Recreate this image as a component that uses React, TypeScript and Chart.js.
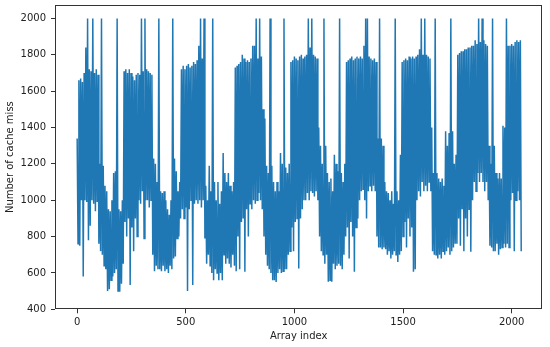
import React, { useEffect, useRef } from "react";
import { Chart, registerables } from "chart.js";

Chart.register(...registerables);

const indexStep = 4;

// Number of cache misses (alternating local highs / lows, one every indexStep indices)
const cacheMisses = [
  1340, 760, 1660, 750, 1670, 1000, 1650, 580, 1700, 1000, 1840, 990, 2000, 780, 1720, 860,
  1710, 1000, 2000, 980, 1700, 940, 1720, 990, 1690, 760, 1200, 720, 2000, 700, 1190, 640,
  1080, 620, 1050, 500, 950, 510, 940, 560, 1000, 580, 1150, 600, 1160, 620, 2000, 500,
  950, 497, 940, 540, 1000, 650, 1710, 880, 1720, 800, 1700, 900, 1720, 534, 1700, 850,
  1680, 720, 1660, 900, 1690, 800, 1700, 1000, 1690, 980, 2000, 1050, 1710, 790, 2000, 1000,
  1720, 1000, 1710, 960, 1700, 1000, 1690, 700, 1230, 610, 1200, 640, 1100, 620, 2000, 620,
  1050, 610, 1040, 640, 1050, 610, 1000, 620, 950, 600, 920, 640, 1000, 620, 2000, 680,
  1230, 690, 1160, 790, 1050, 800, 1100, 900, 1720, 950, 1740, 900, 1720, 960, 1740, 500,
  1750, 950, 1730, 1000, 1740, 534, 1760, 980, 1750, 1000, 1770, 980, 1850, 1000, 2000, 960,
  1780, 1000, 2000, 790, 1080, 650, 1000, 700, 1190, 640, 1050, 600, 2000, 560, 1100, 620,
  1000, 600, 1100, 560, 980, 600, 1050, 560, 1260, 700, 1150, 650, 1100, 680, 1150, 650,
  1080, 630, 1050, 700, 1100, 640, 1730, 610, 1740, 800, 1750, 620, 1760, 880, 1800, 900,
  1780, 607, 1760, 950, 1770, 800, 1760, 980, 1780, 950, 1850, 1000, 1850, 980, 2000, 1000,
  1780, 1040, 2000, 1000, 1790, 950, 1500, 800, 1450, 700, 1190, 640, 1150, 620, 2000, 600,
  1190, 560, 1100, 560, 1050, 550, 1100, 600, 1050, 620, 1260, 600, 1200, 610, 2000, 620,
  1180, 620, 1150, 700, 1200, 720, 1760, 850, 1770, 720, 1790, 880, 1780, 900, 1770, 625,
  1790, 900, 1800, 950, 1780, 1000, 1790, 1000, 1800, 1040, 2000, 1000, 1840, 1050, 2000, 1040,
  1800, 1020, 1790, 1050, 1780, 1000, 1400, 800, 1300, 720, 1200, 700, 2000, 650, 1300, 700,
  1150, 552, 1100, 560, 1120, 552, 1050, 650, 1250, 620, 1200, 640, 1160, 650, 2000, 640,
  1150, 620, 1100, 700, 1200, 800, 1760, 850, 1770, 680, 1780, 880, 1790, 800, 1770, 607,
  1780, 850, 1790, 900, 1780, 1000, 1790, 1050, 1780, 1060, 1850, 1000, 2000, 900, 2000, 1050,
  1790, 1080, 1780, 1050, 1770, 1080, 1780, 1050, 1760, 800, 1340, 740, 2000, 740, 1340, 730,
  1300, 740, 1100, 730, 1050, 700, 1040, 720, 1000, 680, 1050, 700, 980, 720, 2000, 700,
  1050, 660, 1000, 700, 1250, 720, 1760, 800, 1770, 880, 1780, 740, 1770, 900, 1790, 800,
  1780, 850, 1790, 607, 1780, 620, 1790, 1000, 1800, 1050, 1830, 1020, 2000, 1100, 1800, 1050,
  2000, 1080, 1800, 1050, 1790, 1100, 1780, 1050, 1400, 720, 1150, 700, 2000, 700, 1150, 680,
  1120, 700, 1100, 680, 1120, 720, 1080, 700, 1380, 720, 1300, 740, 1370, 700, 2000, 720,
  1380, 740, 1200, 760, 1250, 760, 1800, 900, 1810, 750, 1820, 950, 1820, 720, 1830, 900,
  1830, 800, 1840, 950, 1840, 717, 1850, 1000, 1850, 1100, 1880, 1050, 1860, 1150, 2000, 1100,
  1870, 1150, 2000, 1100, 1880, 1050, 1860, 1100, 1850, 1000, 1300, 750, 1200, 740, 2000, 720,
  1300, 720, 1150, 760, 1120, 700, 1150, 730, 1120, 740, 1410, 760, 1400, 740, 2000, 760,
  1850, 740, 1850, 1000, 1860, 1040, 1850, 720, 1870, 1000, 1880, 1050, 1870, 1000, 1880, 720,
];

const xTicks = [0, 500, 1000, 1500, 2000];
const yTicks = [400, 600, 800, 1000, 1200, 1400, 1600, 1800, 2000];
const xTitle = "Array index";
const yTitle = "Number of cache miss";

export default function App() {
  const ref = useRef<HTMLCanvasElement | null>(null);

  useEffect(() => {
    if (!ref.current) return;
    const font = { family: "DejaVu Sans", size: 10 };
    const textColor = "#222";
    const frameColor = "#333";

    const framePlugin = {
      id: "frame",
      afterDraw(chart: any) {
        const { ctx, chartArea: a } = chart;
        ctx.save();
        ctx.strokeStyle = frameColor;
        ctx.lineWidth = 1;
        ctx.strokeRect(
          Math.round(a.left) + 0.5,
          Math.round(a.top) + 0.5,
          Math.round(a.right - a.left) - 1,
          Math.round(a.bottom - a.top) - 1
        );
        ctx.restore();
      },
    };

    const chart = new Chart(ref.current, {
      type: "line",
      data: {
        datasets: [
          {
            data: cacheMisses.map((v, i) => ({ x: i * indexStep, y: v })),
            borderColor: "#1f77b4",
            borderWidth: 1.5,
            pointRadius: 0,
            tension: 0,
            fill: false,
          },
        ],
      },
      options: {
        responsive: false,
        animation: false,
        events: [],
        layout: { padding: { top: 5, right: 7.7, left: 0, bottom: 0 } },
        plugins: { legend: { display: false }, tooltip: { enabled: false } },
        scales: {
          x: {
            type: "linear",
            min: -102,
            max: 2141,
            afterBuildTicks: (s: any) => {
              s.ticks = xTicks.map((v) => ({ value: v }));
            },
            afterFit: (s: any) => {
              s.height = 37.7;
              s.paddingLeft = 0;
              s.paddingRight = 0;
            },
            grid: {
              drawOnChartArea: false,
              drawTicks: true,
              tickLength: 4,
              color: frameColor,
            },
            border: { display: false },
            ticks: {
              font,
              color: textColor,
              padding: 3,
              maxRotation: 0,
              callback: (v: any) => String(v),
            },
            title: {
              display: true,
              text: xTitle,
              font,
              color: textColor,
              padding: { top: 0, bottom: 5 },
            },
          },
          y: {
            type: "linear",
            min: 400,
            max: 2074,
            afterBuildTicks: (s: any) => {
              s.ticks = yTicks.map((v) => ({ value: v }));
            },
            afterFit: (s: any) => {
              s.width = 55;
              s.paddingTop = 0;
              s.paddingBottom = 0;
            },
            grid: {
              drawOnChartArea: false,
              drawTicks: true,
              tickLength: 4,
              color: frameColor,
            },
            border: { display: false },
            ticks: {
              font,
              color: textColor,
              padding: 5,
              callback: (v: any) => String(v),
            },
            title: {
              display: true,
              text: yTitle,
              font,
              color: textColor,
              padding: { top: 4, bottom: 0 },
            },
          },
        },
      },
      plugins: [framePlugin],
    });
    return () => chart.destroy();
  }, []);

  return (
    <div
      style={{
        position: "fixed",
        left: 0,
        top: 0,
        width: 550,
        height: 347,
        background: "#fff",
      }}
    >
      <canvas ref={ref} width={550} height={347} style={{ display: "block" }} />
    </div>
  );
}
